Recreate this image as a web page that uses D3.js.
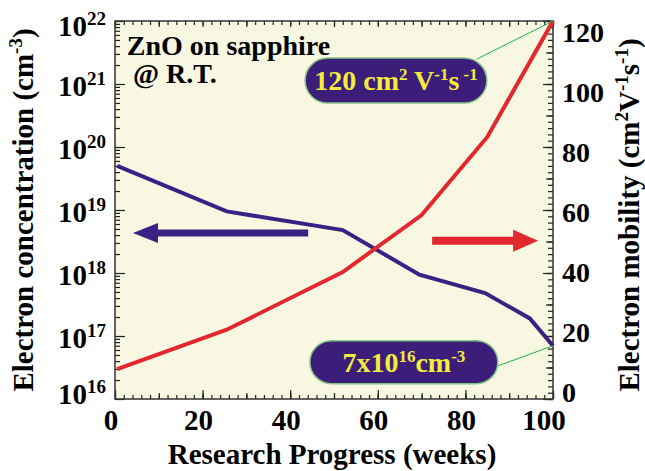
<!DOCTYPE html>
<html>
<head>
<meta charset="utf-8">
<script src="https://cdn.jsdelivr.net/npm/d3@7"></script>
<style>
body { margin: 0; background: #fff; }
text { font-family: "Liberation Serif", "Times New Roman", serif; font-weight: bold; }
</style>
</head>
<body>
<div id="chart"></div>
<script>
// research progress (weeks) for each concentration sample
var weeks = [0.5, 25.5, 52, 69.5, 84.5, 94.7, 100];
// electron concentration (cm^-3), left log axis
var concentration = [5e19, 9.5e18, 4.8e18, 9.4e17, 4.8e17, 1.9e17, 7e16];
// electron mobility (cm2/Vs), right axis
var mobilityWeeks = [0.5, 25.5, 52, 70, 85, 100];
var mobility = [9.5, 22, 40.3, 58.4, 83.2, 120];

var xTicks = [0, 20, 40, 60, 80, 100];
var mobilityTicks = [0, 20, 40, 60, 80, 100, 120];
var decades = [16, 17, 18, 19, 20, 21, 22];

var margin = { top: 21, right: 92, bottom: 72, left: 115 },
    width = 645 - margin.left - margin.right,
    height = 471 - margin.top - margin.bottom;

var svg = d3.select("#chart")
    .append("svg")
    .attr("width", 645)
    .attr("height", 471);

var g = svg.append("g")
    .attr("transform", "translate(" + margin.left + "," + margin.top + ")");

var x = d3.scaleLinear().domain([0, 100]).range([0, width]);
var yL = d3.scaleLog().domain([1e16, 1e22]).range([height, 0]);
var yR = d3.scaleLinear().domain([0, 120]).range([height, 0]);

var blue = "#3b2183", red = "#e2272f", pillFill = "#3c1d79", yellow = "#f3ec3c", green = "#22b04a";

// plot background
g.append("rect")
    .attr("width", width)
    .attr("height", height)
    .attr("fill", "#f8f7e1");

// tick marks, all pointing inwards
function ticks(axisFn, scale, values, size, transform) {
    g.append("g")
        .attr("transform", transform || null)
        .call(axisFn(scale).tickValues(values).tickSize(size).tickSizeOuter(0).tickFormat(""))
        .call(s => s.select(".domain").remove())
        .selectAll("line")
        .attr("stroke", "#222")
        .attr("stroke-width", 1.2);
}
var xMinor = d3.range(0, 101, 2), xMid = d3.range(0, 101, 10);
ticks(d3.axisBottom, x, xMinor, -4, "translate(0," + height + ")");
ticks(d3.axisBottom, x, xMid, -6, "translate(0," + height + ")");
ticks(d3.axisBottom, x, xTicks, -9, "translate(0," + height + ")");
ticks(d3.axisTop, x, xMinor, -4);
ticks(d3.axisTop, x, xMid, -6);

var logMinor = [];
decades.slice(0, -1).forEach(function (d) {
    for (var k = 2; k < 10; k++) logMinor.push(k * Math.pow(10, d));
});
var logMajor = decades.map(d => Math.pow(10, d));
ticks(d3.axisLeft, yL, logMinor, -5);
ticks(d3.axisLeft, yL, logMajor, -10);

ticks(d3.axisRight, yR, d3.range(0, 121, 2), -5, "translate(" + width + ",0)");
ticks(d3.axisRight, yR, d3.range(0, 121, 10), -7, "translate(" + width + ",0)");
ticks(d3.axisRight, yR, mobilityTicks, -10, "translate(" + width + ",0)");

// frame
g.append("rect")
    .attr("width", width)
    .attr("height", height)
    .attr("fill", "none")
    .attr("stroke", "#333")
    .attr("stroke-width", 1.5);

// data lines
var concLine = d3.line()
    .x(d => x(d[0]))
    .y(d => yL(d[1]));
var mobLine = d3.line()
    .x(d => x(d[0]))
    .y(d => yR(d[1]));

g.append("path")
    .datum(d3.zip(weeks, concentration))
    .attr("d", concLine)
    .attr("fill", "none")
    .attr("stroke", blue)
    .attr("stroke-width", 4);

g.append("path")
    .datum(d3.zip(mobilityWeeks, mobility))
    .attr("d", mobLine)
    .attr("fill", "none")
    .attr("stroke", red)
    .attr("stroke-width", 4);

// direction arrows (tail week, tip week, mobility level)
function arrow(tail, tip, level, thick, headLen, headHalf, color) {
    var x0 = x(tail), x1 = x(tip), yc = yR(level), dir = x1 > x0 ? 1 : -1;
    var xb = x1 - dir * headLen;
    var pts = [[x0, yc - thick / 2], [xb, yc - thick / 2], [xb, yc - headHalf], [x1, yc],
               [xb, yc + headHalf], [xb, yc + thick / 2], [x0, yc + thick / 2]];
    g.append("path")
        .attr("d", "M" + pts.join("L") + "Z")
        .attr("fill", color);
}
arrow(44.1, 4.1, 52.7, 7, 25, 10, blue);
arrow(72.4, 96.6, 50.2, 8, 25, 11, red);

// callout pills
function pill(w0, w1, level, h, parts, baseShift) {
    var px0 = x(w0), px1 = x(w1), cy = yR(level);
    g.append("rect")
        .attr("x", px0)
        .attr("y", cy - h / 2)
        .attr("width", px1 - px0)
        .attr("height", h)
        .attr("rx", h / 2)
        .attr("fill", pillFill)
        .attr("stroke", "#86c386")
        .attr("stroke-width", 1.5);
    var t = g.append("text")
        .attr("x", (px0 + px1) / 2)
        .attr("y", cy + baseShift)
        .attr("text-anchor", "middle")
        .attr("fill", yellow)
        .style("font-size", "28px");
    addParts(t, parts, 17, 10);
}

// text with superscript pieces: [string, isSuper]
function addParts(t, parts, supSize, rise) {
    var up = false;
    parts.forEach(function (p) {
        var s = t.append("tspan").text(p[0]);
        if (p[1] && !up) { s.attr("dy", -rise); up = true; }
        else if (!p[1] && up) { s.attr("dy", rise); up = false; }
        if (p[1]) s.style("font-size", supSize + "px");
    });
}

pill(43.4, 84.9, 101.1, 45, [["120 cm"], ["2", true], [" V"], ["-1", true], ["s"], [" -1", true]], 9);
pill(44.5, 87.4, 11.7, 43, [["7x10"], ["16", true], ["cm"], ["-3", true]], 10);

// leader lines
g.append("line")
    .attr("x1", x(82.6)).attr("y1", yR(107.9))
    .attr("x2", x(100)).attr("y2", yR(120))
    .attr("stroke", green).attr("stroke-width", 1);
g.append("line")
    .attr("x1", x(87.4)).attr("y1", yR(10.5))
    .attr("x2", x(100)).attr("y2", yL(7e16))
    .attr("stroke", green).attr("stroke-width", 1);

// sample annotation
g.append("text")
    .attr("x", x(2.7))
    .attr("y", 34)
    .style("font-size", "28px")
    .text("ZnO on sapphire");
g.append("text")
    .attr("x", x(4.1))
    .attr("y", 62)
    .style("font-size", "28px")
    .text("@ R.T.");

// bottom tick labels
g.selectAll(".xlab")
    .data(xTicks)
    .enter()
    .append("text")
    .attr("x", d => Math.max(-7, Math.min(x(d) - 4, width - 9)))
    .attr("y", height + 31)
    .attr("text-anchor", "middle")
    .style("font-size", "29px")
    .text(d => d);

// left tick labels: 10^n
decades.forEach(function (d) {
    var cy = Math.max(5.5, Math.min(yL(Math.pow(10, d)) + 3, height - 4));
    var t = g.append("text")
        .attr("x", -9)
        .attr("y", cy + 9)
        .attr("text-anchor", "end")
        .style("font-size", "29px");
    addParts(t, [["10"], [String(d), true]], 19, 11);
});

// right tick labels
var labelPos = d3.scaleLinear().domain([0, 120]).range([height - 7, 10.5]);
g.selectAll(".rlab")
    .data(mobilityTicks)
    .enter()
    .append("text")
    .attr("x", width + 9)
    .attr("y", d => labelPos(d) + 10)
    .style("font-size", "28px")
    .text(d => d);

// axis titles
svg.append("text")
    .attr("x", 332)
    .attr("y", 464)
    .attr("text-anchor", "middle")
    .style("font-size", "29px")
    .text("Research Progress (weeks)");

var leftTitle = svg.append("text")
    .attr("transform", "translate(33,210) rotate(-90)")
    .attr("text-anchor", "middle")
    .style("font-size", "29px");
addParts(leftTitle, [["Electron concentration (cm"], ["-3", true], [")"]], 19, 11);

var rightTitle = svg.append("text")
    .attr("transform", "translate(639,215) rotate(-90)")
    .attr("text-anchor", "middle")
    .style("font-size", "29px");
addParts(rightTitle, [["Electron mobility (cm"], ["2", true], ["V"], ["-1", true], ["s"], ["-1", true], [")"]], 19, 11);
</script>
</body>
</html>
